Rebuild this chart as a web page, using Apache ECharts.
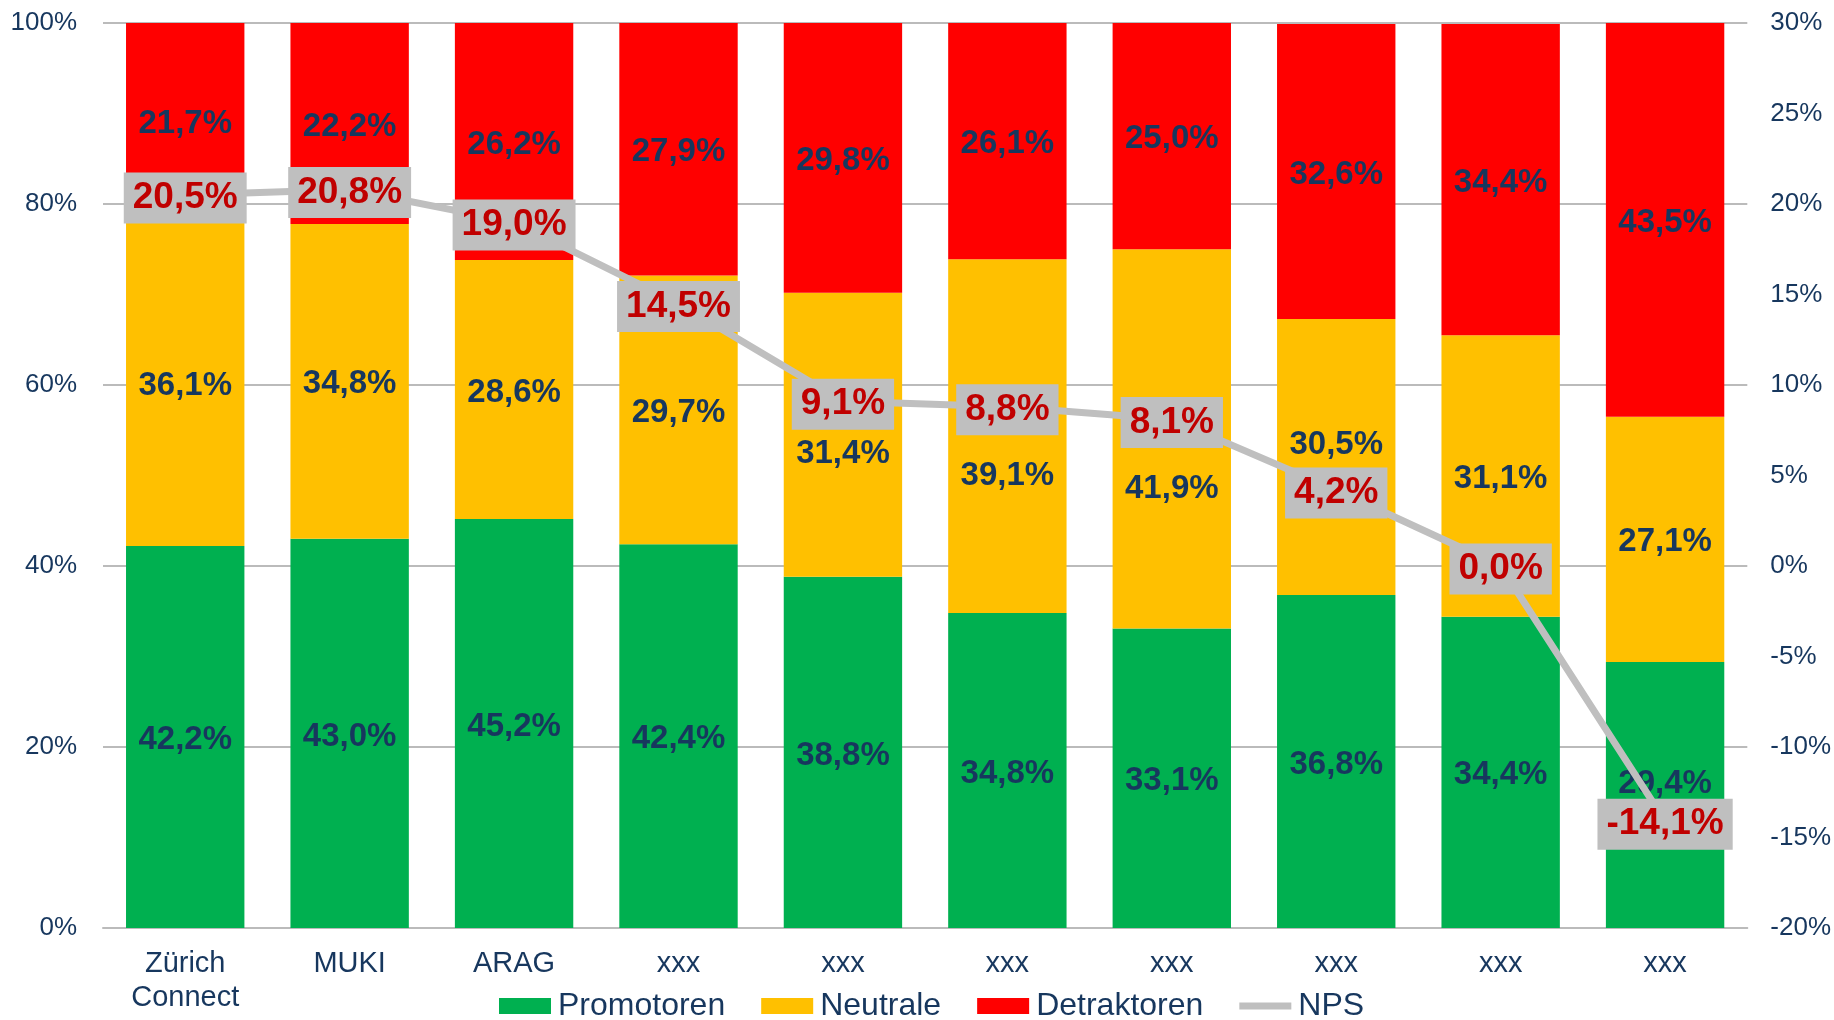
<!DOCTYPE html>
<html>
<head>
<meta charset="utf-8">
<title>NPS</title>
<script src="https://cdn.jsdelivr.net/npm/echarts@6/dist/echarts.min.js"></script>
<style>
    html, body { margin: 0; padding: 0; background: #fff; }
    #main { width: 1834px; height: 1020px; }
</style>
</head>
<body>
<div id="main"></div>
<script>
// Kategorien und Werte (in %)
var categories = ['Zürich\nConnect', 'MUKI', 'ARAG', 'xxx', 'xxx', 'xxx', 'xxx', 'xxx', 'xxx', 'xxx'];
var promotoren = [42.2, 43.0, 45.2, 42.4, 38.8, 34.8, 33.1, 36.8, 34.4, 29.4];
var neutrale = [36.1, 34.8, 28.6, 29.7, 31.4, 39.1, 41.9, 30.5, 31.1, 27.1];
var detraktoren = [21.7, 22.2, 26.2, 27.9, 29.8, 26.1, 25.0, 32.6, 34.4, 43.5];
var nps = [20.5, 20.8, 19.0, 14.5, 9.1, 8.8, 8.1, 4.2, 0.0, -14.1];
var leftTicks = [0, 100, 20];   // min, max, interval
var rightTicks = [-20, 30, 5];

var FONT = 'Liberation Sans, Arial, sans-serif';
var NAVY = '#17375E';

function pct(v) {
    return v.toFixed(1).replace('.', ',') + '%';
}

// einzelne Labels sind im Original verschoben (Index -> Verschiebung in px)
function withShift(values, shifts) {
    return values.map(function (v, i) {
        var dy = 3 + (shifts[i] || 0);
        return { value: v, label: { offset: [0, dy] } };
    });
}

var barLabel = {
    show: true,
    position: 'inside',
    color: NAVY,
    fontFamily: FONT,
    fontWeight: 'bold',
    fontSize: 33,
    formatter: function (p) { return pct(p.value); }
};

var myChart = echarts.init(document.getElementById('main'));

var option = {
    animation: false,
    textStyle: { fontFamily: FONT },
    grid: { left: 103, right: 86, top: 23, bottom: 92 },
    legend: {
        top: 990,
        left: 499,
        padding: 0,
        itemWidth: 52,
        itemHeight: 16,
        itemGap: 36,
        textStyle: { color: NAVY, fontSize: 32, lineHeight: 32, fontFamily: FONT, padding: [0, 0, 0, 2] },
        data: [
            { name: 'Promotoren', icon: 'rect' },
            { name: 'Neutrale', icon: 'rect' },
            { name: 'Detraktoren', icon: 'rect' },
            { name: 'NPS', icon: 'path://M0,0 L52,0 L52,7 L0,7 Z' }
        ]
    },
    xAxis: {
        type: 'category',
        data: categories,
        axisTick: { show: false },
        axisLine: { lineStyle: { color: '#BBBBBB', width: 2 } },
        axisLabel: {
            color: NAVY,
            fontSize: 29,
            fontFamily: FONT,
            lineHeight: 34,
            margin: 19
        }
    },
    yAxis: [
        {
            type: 'value',
            min: leftTicks[0],
            max: leftTicks[1],
            interval: leftTicks[2],
            axisLine: { show: false },
            axisTick: { show: false },
            splitLine: { lineStyle: { color: '#BBBBBB', width: 2 } },
            axisLabel: { color: NAVY, fontSize: 26, fontFamily: FONT, margin: 26, formatter: '{value}%' }
        },
        {
            type: 'value',
            min: rightTicks[0],
            max: rightTicks[1],
            interval: rightTicks[2],
            axisLine: { show: false },
            axisTick: { show: false },
            splitLine: { show: false },
            axisLabel: { color: NAVY, fontSize: 26, fontFamily: FONT, margin: 23, formatter: '{value}%' }
        }
    ],
    series: [
        {
            name: 'Promotoren',
            type: 'bar',
            stack: 'all',
            barCategoryGap: '28%',
            itemStyle: { color: '#00B050' },
            label: barLabel,
            data: withShift(promotoren, { 9: -14 })
        },
        {
            name: 'Neutrale',
            type: 'bar',
            stack: 'all',
            itemStyle: { color: '#FFC000' },
            label: barLabel,
            data: withShift(neutrale, { 4: 16, 5: 37, 6: 47, 7: -15 })
        },
        {
            name: 'Detraktoren',
            type: 'bar',
            stack: 'all',
            itemStyle: { color: '#FF0000' },
            label: barLabel,
            data: withShift(detraktoren, {})
        },
        {
            name: 'NPS',
            type: 'line',
            yAxisIndex: 1,
            z: 5,
            symbol: 'circle',
            symbolSize: 1,
            itemStyle: { color: '#BFBFBF' },
            lineStyle: { color: '#BFBFBF', width: 7 },
            label: {
                show: true,
                position: 'inside',
                offset: [0, 3],
                color: '#C00000',
                fontFamily: FONT,
                fontWeight: 'bold',
                fontSize: 37,
                lineHeight: 37,
                backgroundColor: '#BFBFBF',
                padding: [7, 9, 7, 9],
                formatter: function (p) { return pct(p.value); }
            },
            data: nps
        }
    ]
};

myChart.setOption(option);
</script>
</body>
</html>
